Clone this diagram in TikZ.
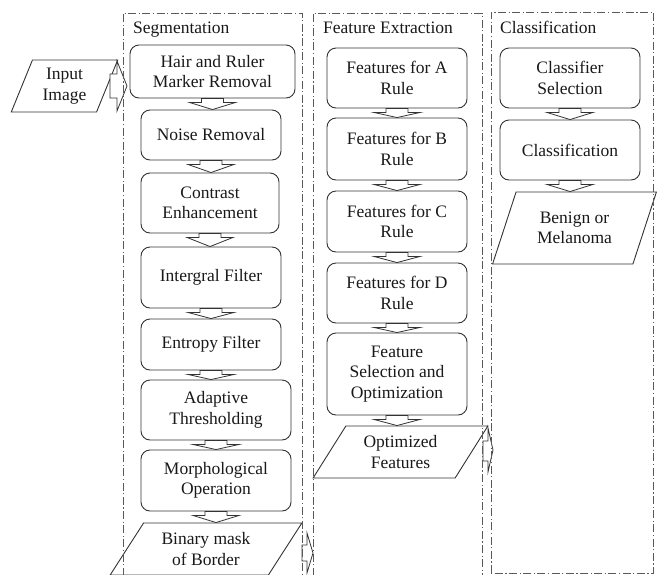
\documentclass[tikz,border=0pt]{standalone}
\usepackage{fontspec}
\setmainfont{Liberation Serif}
\usetikzlibrary{shapes.geometric}

\tikzset{
  stagebox/.style={draw=black!80, line width=0.9pt, rounded corners=9pt, align=center,
    inner sep=0pt, text=black!90},
  iobox/.style={trapezium, trapezium stretches=true, draw=black!80, line width=0.9pt,
    align=center, inner sep=0pt, text=black!90},
  frame/.style={draw=black!65, line width=1pt, dash pattern=on 8pt off 2.5pt on 1.2pt off 2.5pt},
  blkarrow/.style={draw=black!80, fill=white, line width=0.8pt, line join=miter},
  heading/.style={anchor=base west, inner sep=0pt, text=black!90}
}

\begin{document}
\begin{tikzpicture}[x=1pt, y=-1pt, font=\fontsize{17.5}{20.5}\selectfont]
      \useasboundingbox (0,0) rectangle (657,574);

      % input
      \node[iobox, trapezium left angle=68, trapezium right angle=112,
        minimum width=107pt, minimum height=52pt] (inp) at (64.5,86) {Input\\Image};

      % segmentation
      \node[stagebox, minimum width=165pt, minimum height=53pt] (hair) at (212.5,71.5) {Hair and Ruler\\Marker Removal};
      \node[stagebox, minimum width=140pt, minimum height=50pt] (noise) at (211,135) {Noise Removal};
      \node[stagebox, minimum width=138pt, minimum height=60pt] (contrast) at (210,203) {Contrast\\Enhancement};
      \node[stagebox, minimum width=140pt, minimum height=61pt] (integral) at (211,277.5) {Intergral Filter};
      \node[stagebox, minimum width=140pt, minimum height=51pt] (entropy) at (211,344.5) {Entropy Filter};
      \node[stagebox, minimum width=150pt, minimum height=60pt] (adaptive) at (216,410) {Adaptive\\Thresholding};
      \node[stagebox, minimum width=150pt, minimum height=61pt] (morph) at (216,480.5) {Morphological\\Operation};
      \node[iobox, trapezium left angle=54, trapezium right angle=126,
        minimum width=192pt, minimum height=52pt] (mask) at (206,549) {Binary mask\\of Border};

      % feature extraction
      \node[stagebox, minimum width=140pt, minimum height=60pt] (fa) at (397,78) {Features for A\\Rule};
      \node[stagebox, minimum width=140pt, minimum height=62pt] (fb) at (397,149) {Features for B\\Rule};
      \node[stagebox, minimum width=140pt, minimum height=61pt] (fc) at (397,221.5) {Features for C\\Rule};
      \node[stagebox, minimum width=140pt, minimum height=60pt] (fd) at (397,293) {Features for D\\Rule};
      \node[stagebox, minimum width=140pt, minimum height=82pt] (fsel) at (397,374) {Feature\\Selection and\\Optimization};
      \node[iobox, trapezium left angle=56, trapezium right angle=124,
        minimum width=175pt, minimum height=52pt] (opt) at (400.5,452) {Optimized\\Features};

      % classification
      \node[stagebox, minimum width=140pt, minimum height=60pt] (csel) at (570,78) {Classifier\\Selection};
      \node[stagebox, minimum width=140pt, minimum height=60pt] (cls) at (570,150) {Classification};
      \node[iobox, trapezium left angle=65, trapezium right angle=115,
        minimum width=164pt, minimum height=72pt] (res) at (574.5,228) {Benign or\\Melanoma};

      % down arrows
      \foreach \a/\b in {hair/noise, noise/contrast, contrast/integral, integral/entropy,
        entropy/adaptive, adaptive/morph, morph/mask, fa/fb, fb/fc, fc/fd, fd/fsel,
        fsel/opt, csel/cls, cls/res}
        \draw[blkarrow] ([xshift=-11pt]\a.south) -- ([xshift=-11pt,yshift=-4pt]\a.south)
          -- ([xshift=-23pt,yshift=-4pt]\a.south) -- (\a.south |- \b.north)
          -- ([xshift=23pt,yshift=-4pt]\a.south) -- ([xshift=11pt,yshift=-4pt]\a.south)
          -- ([xshift=11pt]\a.south) -- cycle;

      % side arrows
      \draw[blkarrow] ([xshift=45.5pt,yshift=12pt]inp.center) -- ++(7,0) -- ++(0,-13)
        -- ++(10,25) -- ++(-10,25) -- ++(0,-13) -- ++(-7,0) -- cycle;
      \draw[blkarrow] ([xshift=96pt,yshift=4pt]mask.center) -- ++(5,0) -- ++(0,-12)
        -- ++(6,20) -- ++(-6,20) -- ++(0,-12) -- ++(-5,0) -- cycle;
      \draw[blkarrow] ([xshift=82.5pt,yshift=11pt]opt.center) -- ++(5,0) -- ++(0,-13)
        -- ++(5,22) -- ++(-5,22) -- ++(0,-11) -- ++(-5,0) -- cycle;

      % frames
      \draw[frame] (123,590) -- (123,13) -- (302,13) -- (302,590);
      \draw[frame] (313,590) -- (313,13) -- (482,13) -- (482,590);
      \draw[frame] (491,573) -- (491,12) -- (653,12) -- (653,573) -- cycle;
      \node[heading] (seghead) at (133,33) {Segmentation};
      \node[heading] (feahead) at (323,33) {Feature Extraction};
      \node[heading] (clahead) at (500,33) {Classification};
    \end{tikzpicture}
\end{document}
